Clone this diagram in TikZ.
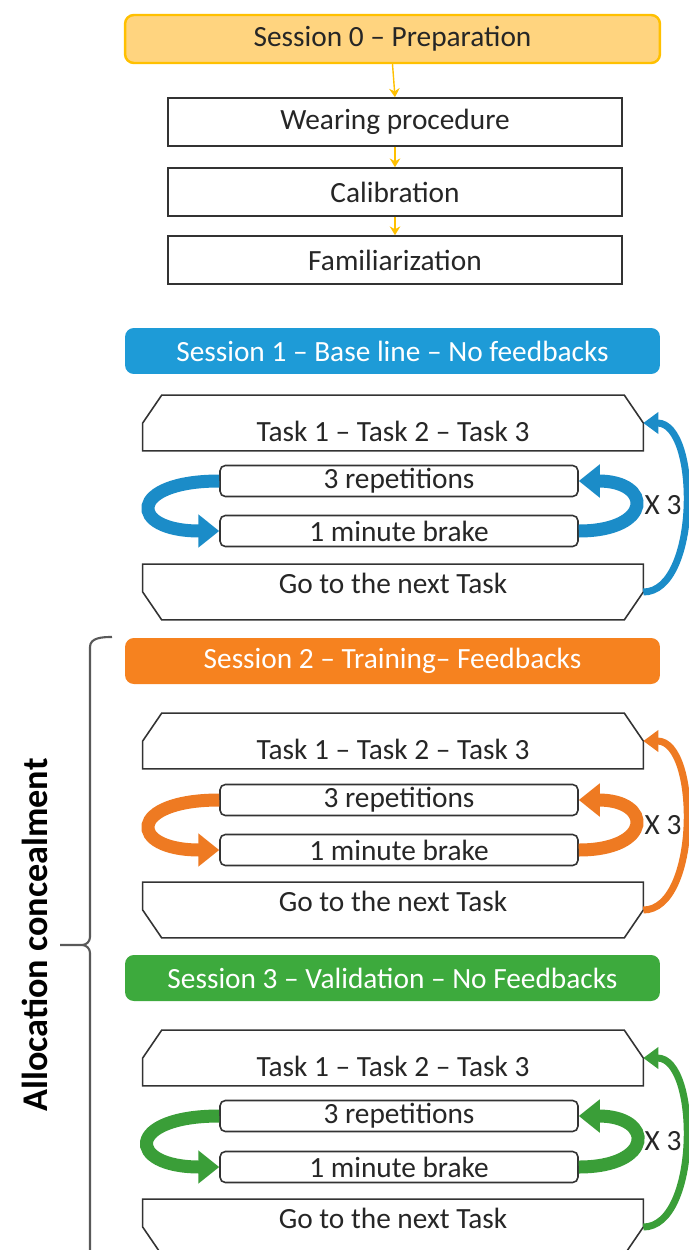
\documentclass[tikz,border=0pt]{standalone}
\usepackage{fontspec}
\setmainfont{Carlito}
\usetikzlibrary{arrows.meta}
\definecolor{prepfill}{HTML}{FFD47F}
\definecolor{prepline}{HTML}{FFC000}
\definecolor{baseblue}{HTML}{1E9BD7}
\definecolor{trainorange}{HTML}{F6821F}
\definecolor{validgreen}{HTML}{3DAA3D}
\definecolor{blueflow}{HTML}{1B8CC8}
\definecolor{orangeflow}{HTML}{EE7A22}
\definecolor{greenflow}{HTML}{3A9E38}
\begin{document}
\begin{tikzpicture}[x=0.02cm,y=-0.02cm,
txt/.style={font=\fontsize{16.7}{20}\selectfont,text=black!85},
sess/.style={txt,rounded corners=5pt,minimum width=10.7cm,minimum height=0.92cm,inner sep=0pt,text=white},
sesszero/.style={sess,draw=prepline,line width=1.4pt,fill=prepfill,minimum height=0.96cm,text=black!85},
prep/.style={txt,draw=black!80,line width=0.9pt,fill=white,minimum width=9.08cm,minimum height=0.96cm,inner sep=0pt},
task/.style={txt,minimum width=10cm,minimum height=1.1cm,inner sep=0pt,text height=0.72cm,text depth=0cm},
nexttask/.style={task,text height=0.44cm,text depth=0.38cm},
edge/.style={draw=black!80,line width=0.9pt},
loopbox/.style={txt,draw=black!80,line width=0.9pt,fill=white,rounded corners=3pt,minimum width=7.16cm,minimum height=0.62cm,inner sep=0pt},
prepflow/.style={draw=prepline,line width=0.8pt,-{Stealth[length=5pt,width=6pt]}},
loopflow/.style={line width=0.26cm,-{Triangle[length=0.42cm,width=0.64cm]}},
repeatflow/.style={line width=0.14cm,-{Triangle[length=0.3cm,width=0.42cm]}},
bracepath/.style={draw=black!65,line width=1.2pt}
]
\useasboundingbox (0,0) rectangle (689,1250);
% preparation
\node[sesszero] (s0) at (392.5,39) {Session 0 -- Preparation};
\node[prep] (wp) at (395,122) {Wearing procedure};
\node[prep] (cal) at (395,192) {Calibration};
\node[prep] (fam) at (395,260) {Familiarization};
\draw[prepflow] (s0.south) -- (wp.north);
\draw[prepflow] (wp.south) -- (cal.north);
\draw[prepflow] (cal.south) -- (fam.north);
% session 1
\node[sess,fill=baseblue] (s1) at (392.5,351) {Session 1 -- Base line -- No feedbacks};
\node[task] (t1) at (393,423) {Task 1 -- Task 2 -- Task 3};
\node[loopbox] (r1) at (399,481) {3 repetitions};
\node[loopbox] (b1) at (399,531) {1 minute brake};
\node[nexttask] (n1) at (393,592) {Go to the next Task};
\node[txt] (x1) at (663,505) {X 3};
\draw[edge] (t1.south west) -- (t1.west) -- ([xshift=0.38cm]t1.north west) -- ([xshift=-0.38cm]t1.north east) -- (t1.east) -- (t1.south east) -- cycle;
\draw[edge] (n1.north west) -- (n1.west) -- ([xshift=0.38cm]n1.south west) -- ([xshift=-0.38cm]n1.south east) -- (n1.east) -- (n1.north east) -- cycle;
\draw[loopflow,draw=blueflow] (r1.west) to[out=180,in=180,looseness=4.7] (b1.west);
\draw[loopflow,draw=blueflow] (b1.east) to[out=0,in=0,looseness=3.8] (r1.east);
\draw[repeatflow,draw=blueflow] (n1.east) to[out=0,in=0,looseness=0.85] (t1.east);
% session 2
\node[sess,fill=trainorange] (s2) at (392.5,661) {Session 2 -- Training-- Feedbacks};
\node[task] (t2) at (393,741) {Task 1 -- Task 2 -- Task 3};
\node[loopbox] (r2) at (399,800) {3 repetitions};
\node[loopbox] (b2) at (399,850) {1 minute brake};
\node[nexttask] (n2) at (393,910) {Go to the next Task};
\node[txt] (x2) at (663,825) {X 3};
\draw[edge] (t2.south west) -- (t2.west) -- ([xshift=0.38cm]t2.north west) -- ([xshift=-0.38cm]t2.north east) -- (t2.east) -- (t2.south east) -- cycle;
\draw[edge] (n2.north west) -- (n2.west) -- ([xshift=0.38cm]n2.south west) -- ([xshift=-0.38cm]n2.south east) -- (n2.east) -- (n2.north east) -- cycle;
\draw[loopflow,draw=orangeflow] (r2.west) to[out=180,in=180,looseness=4.7] (b2.west);
\draw[loopflow,draw=orangeflow] (b2.east) to[out=0,in=0,looseness=3.8] (r2.east);
\draw[repeatflow,draw=orangeflow] (n2.east) to[out=0,in=0,looseness=0.85] (t2.east);
% session 3
\node[sess,fill=validgreen] (s3) at (392.5,978) {Session 3 -- Validation -- No Feedbacks};
\node[task] (t3) at (393,1058) {Task 1 -- Task 2 -- Task 3};
\node[loopbox] (r3) at (399,1116) {3 repetitions};
\node[loopbox] (b3) at (399,1167) {1 minute brake};
\node[nexttask] (n3) at (393,1227) {Go to the next Task};
\node[txt] (x3) at (663,1141) {X 3};
\draw[edge] (t3.south west) -- (t3.west) -- ([xshift=0.38cm]t3.north west) -- ([xshift=-0.38cm]t3.north east) -- (t3.east) -- (t3.south east) -- cycle;
\draw[edge] (n3.north west) -- (n3.west) -- ([xshift=0.38cm]n3.south west) -- ([xshift=-0.38cm]n3.south east) -- (n3.east) -- (n3.north east) -- cycle;
\draw[loopflow,draw=greenflow] (r3.west) to[out=180,in=180,looseness=4.7] (b3.west);
\draw[loopflow,draw=greenflow] (b3.east) to[out=0,in=0,looseness=3.8] (r3.east);
\draw[repeatflow,draw=greenflow] (n3.east) to[out=0,in=0,looseness=0.85] (t3.east);
% allocation
\draw[bracepath] (112,637) to[out=180,in=90] (90,647) -- (90,937) to[out=270,in=0] (82,945) -- (60,945)
  (82,945) to[out=0,in=90] (90,953) -- (90,1260);
\node[rotate=90,font=\bfseries\fontsize{20.6}{24}\selectfont] (alloc) at (35,935) {Allocation concealment};
\end{tikzpicture}
\end{document}
